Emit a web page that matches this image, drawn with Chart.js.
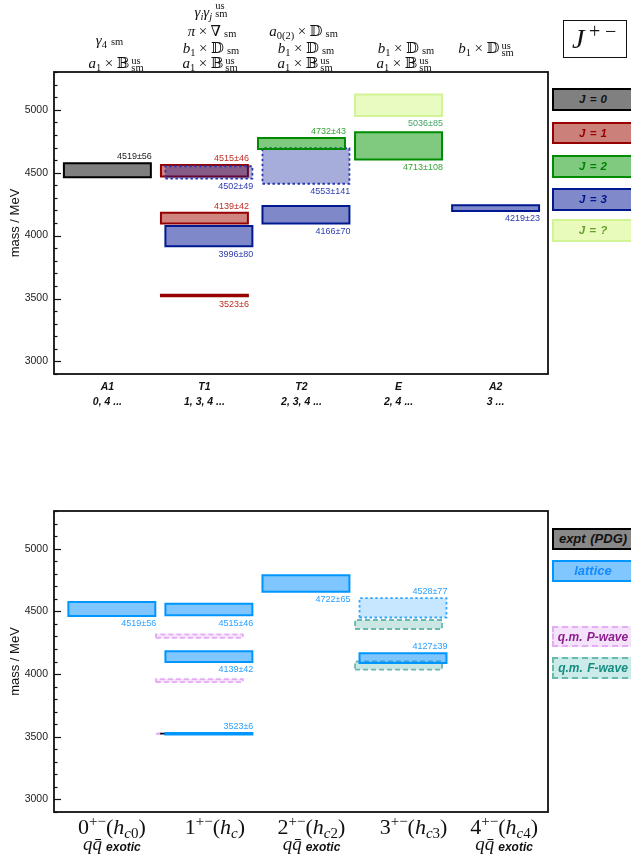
<!DOCTYPE html>
<html>
<head>
<meta charset="utf-8">
<title>J+- charmonium levels</title>
<script src="https://cdn.jsdelivr.net/npm/chart.js@4.4.1/dist/chart.umd.min.js"></script>
<style>
  html, body { margin: 0; padding: 0; background: #fff; }
  body { position: relative; width: 631px; height: 858px; overflow: hidden; font-family: "Liberation Sans", Arial, sans-serif; }
  canvas { position: absolute; left: 0; }
  #topChart { top: 0; }
  #botChart { top: 430px; }
  .key { position: absolute; left: 552px; width: 86px; height: 22.5px; box-sizing: border-box;
         border: 2px solid #000; font: italic bold 11.5px "Liberation Sans", Arial, sans-serif;
         text-align: center; line-height: 18.5px; padding-right: 4px; word-spacing: 1px; }
  .key.big { font-size: 13px; }
  .key.mid { font-size: 12px; }
</style>
</head>
<body>
<canvas id="topChart" width="631" height="420"></canvas>
<canvas id="botChart" width="631" height="428"></canvas>

<div class="key" style="top:88px;background:#808080;border-color:#000;color:#111;">J = 0</div>
<div class="key" style="top:121.5px;background:rgb(204,128,122);border-color:rgb(150,0,0);color:rgb(150,0,0);">J = 1</div>
<div class="key" style="top:155px;background:rgb(128,202,128);border-color:rgb(0,140,0);color:rgb(0,130,0);">J = 2</div>
<div class="key" style="top:188px;background:rgb(128,137,202);border-color:rgb(0,25,145);color:rgb(0,20,140);">J = 3</div>
<div class="key" style="top:219px;background:rgb(232,251,186);border-color:rgb(210,244,150);color:rgb(100,160,40);">J = ?</div>

<div class="key big" style="top:528px;height:21.5px;background:#888;border-color:#000;color:#111;">expt (PDG)</div>
<div class="key big" style="top:560px;height:22px;background:rgb(128,198,255);border-color:rgb(0,150,255);color:rgb(20,140,255);">lattice</div>
<div class="key mid" style="top:625.5px;height:21.5px;background:rgb(245,226,251);border:2px dashed rgb(228,172,245);color:rgb(140,30,140);">q.m. P-wave</div>
<div class="key mid" style="top:657px;height:22px;background:rgb(202,235,231);border:2px dashed rgb(105,185,175);color:rgb(20,140,130);">q.m. F-wave</div>

<script>
// ---------- upper panel: levels in each cubic irrep ----------
const irreps     = ['A1', 'T1', 'T2', 'E', 'A2'];
const irrepSpins = ['0, 4 ...', '1, 3, 4 ...', '2, 3, 4 ...', '2, 4 ...', '3 ...'];

// listed back-to-front (first entry is drawn underneath)
const levelIrrep = ['T1', 'T1', 'A1', 'T1', 'T1', 'T1', 'T2', 'T2', 'T2', 'E', 'E', 'A2'];
const levelSpin  = ['1', '3', '0', '1', '3', '1', '3', '2', '3', '?', '2', '3'];
const levelMass  = [4515, 4502, 4519, 4139, 3996, 3523, 4553, 4732, 4166, 5036, 4713, 4219];
const levelErr   = [46, 49, 56, 42, 80, 6, 141, 43, 70, 85, 108, 23];

// ---------- lower panel: continuum J^{+-} assignments ----------
const hcSpin   = ['0', '1', '2', '3', '4'];
const hcSub    = ['c0', 'c', 'c2', 'c3', 'c4'];
const hcExotic = [true, false, true, false, true];

const stateJ    = [1, 1, 1, 1, 3, 3, 0, 1, 1, 1, 2, 3, 3];
const stateKind = ['pwave', 'pwave', 'pwave', 'expt', 'fwave', 'fwave',
                   'lattice', 'lattice', 'lattice', 'lattice', 'lattice', 'lattice', 'lattice'];
const stateMass = [4303, 3948, 3525, 3525, 4395, 4068, 4519, 4515, 4139, 3523, 4722, 4528, 4127];
const stateErr  = [14, 12, 2, 1, 36, 32, 56, 46, 42, 6, 65, 77, 39];

const massTicks = [3000, 3500, 4000, 4500, 5000];

// ---------- drawing details (kept apart from the values) ----------
const levelDotted  = [false, true, false, false, false, false, true, false, false, false, false, false];
const levelTagSide = ['above', 'below', 'above', 'above', 'below', 'below', 'below', 'above', 'below', 'below', 'below', 'below'];
const levelNudge   = [0, 1, 0, 0, 1, 0, 1, 0, 1, 0, 0, 0];
const stateDotted  = [false, false, false, false, false, false, false, false, false, false, false, true, false];
const stateTagSide = [null, null, null, null, null, null, 'below', 'below', 'below', 'above', 'below', 'above', 'above'];
const hcLabelNudge = [4.5, 10.5, 10, 15, 8.5];

const SANS  = '"Liberation Sans", Arial, Helvetica, sans-serif';
const SERIF = '"Liberation Serif", "DejaVu Serif", "Times New Roman", serif';
const HW = 0.448;      // half width of a level box, x units
const NUDGE = 0.046;   // sideways shift of overlapping boxes, x units

const spinLook = {
  '0': {line: '#000',             fill: 'rgba(0,0,0,0.5)',        tag: '#222'},
  '1': {line: 'rgb(150,0,0)',     fill: 'rgba(160,10,0,0.5)',     tag: 'rgb(190,45,35)'},
  '2': {line: 'rgb(0,140,0)',     fill: 'rgba(0,150,0,0.5)',      tag: 'rgb(55,165,55)'},
  '3': {line: 'rgb(0,25,145)',    fill: 'rgba(0,20,150,0.5)',     tag: 'rgb(45,60,175)'},
  '?': {line: 'rgb(210,244,150)', fill: 'rgba(205,248,120,0.45)', tag: 'rgb(70,165,105)'}
};
const dottedLook = {line: 'rgb(40,55,175)', fill: 'rgba(0,20,150,0.35)', dash: [2.5, 2.5], width: 1.8};

const kindLook = {
  expt:    {line: '#000',             fill: 'rgba(0,0,0,0.5)',        width: 1.5, shift: 0},
  lattice: {line: 'rgb(0,150,255)',   fill: 'rgba(0,140,255,0.5)',    width: 2,   shift: NUDGE, tag: 'rgb(40,160,255)'},
  pwave:   {line: 'rgb(228,170,245)', fill: 'rgba(215,150,240,0.28)', width: 1.8, shift: -0.052, dash: [5, 3]},
  fwave:   {line: 'rgb(105,185,175)', fill: 'rgba(80,175,165,0.3)',   width: 1.8, shift: 0, dash: [5, 3]}
};
const latticeDotted = {line: 'rgb(50,165,255)', fill: 'rgba(0,140,255,0.22)', dash: [2.5, 2.5], width: 1.8};

// a closed rectangle spanning mass ± err around x position cx
function levelBox(cx, mass, err, look, order, tag) {
  const lo = mass - err, hi = mass + err;
  return {
    data: [{x: cx - HW, y: lo}, {x: cx + HW, y: lo}, {x: cx + HW, y: hi}, {x: cx - HW, y: hi}, {x: cx - HW, y: lo}],
    borderColor: look.line,
    backgroundColor: look.fill,
    borderWidth: look.width || 2,
    borderDash: look.dash || [],
    borderCapStyle: look.dash ? 'butt' : 'square',
    borderJoinStyle: 'miter',
    fill: 'shape',
    tension: 0,
    pointRadius: 0,
    pointHoverRadius: 0,
    order,
    tag
  };
}

const topSets = levelMass.map((m, i) => {
  const base = spinLook[levelSpin[i]];
  const look = levelDotted[i] ? Object.assign({}, base, dottedLook) : base;
  const cx = irreps.indexOf(levelIrrep[i]) + 1 + levelNudge[i] * NUDGE;
  return levelBox(cx, m, levelErr[i], look, levelMass.length - i,
    {text: m + '±' + levelErr[i], side: levelTagSide[i], color: base.tag});
});

const botSets = stateMass.map((m, i) => {
  const base = kindLook[stateKind[i]];
  const look = stateDotted[i] ? Object.assign({}, base, latticeDotted) : base;
  const cx = stateJ[i] + 1 + base.shift;
  const tag = stateTagSide[i] ? {text: m + '±' + stateErr[i], side: stateTagSide[i], color: base.tag} : null;
  return levelBox(cx, m, stateErr[i], look, stateMass.length - i, tag);
});

// frame round the plot and inward tick marks on the mass axis
const frameTicks = {
  id: 'frameTicks',
  afterDatasetsDraw(chart) {
    const {ctx, chartArea: a, scales: {y}} = chart;
    ctx.save();
    ctx.strokeStyle = '#111';
    ctx.lineWidth = 1.2;
    y.ticks.forEach(t => {
      const py = Math.round(y.getPixelForValue(t.value)) + 0.5;
      const len = massTicks.includes(t.value) ? 7 : 3.5;
      ctx.beginPath();
      ctx.moveTo(a.left, py);
      ctx.lineTo(a.left + len, py);
      ctx.stroke();
    });
    ctx.lineWidth = 1.8;
    ctx.strokeRect(a.left, a.top, a.right - a.left, a.bottom - a.top);
    ctx.restore();
  }
};

// "mass±err" tags beside each box
const valueTags = {
  id: 'valueTags',
  afterDatasetsDraw(chart) {
    const {ctx, scales: {x, y}} = chart;
    ctx.save();
    ctx.font = '9px ' + SANS;
    ctx.textAlign = 'right';
    chart.data.datasets.forEach(ds => {
      if (!ds.tag) return;
      const half = ds.borderWidth / 2;
      const right = x.getPixelForValue(ds.data[1].x) + half;
      ctx.fillStyle = ds.tag.color;
      if (ds.tag.side === 'above') {
        ctx.textBaseline = 'alphabetic';
        ctx.fillText(ds.tag.text, right, y.getPixelForValue(ds.data[2].y) - half - 3);
      } else {
        ctx.textBaseline = 'top';
        ctx.fillText(ds.tag.text, right, y.getPixelForValue(ds.data[0].y) + half + 2.5);
      }
    });
    ctx.restore();
  }
};

// small rich-text helper: runs of text with their own font and vertical shift
function partWidth(ctx, p) {
  if (p.sp !== undefined) return p.sp;
  ctx.font = p.f;
  if (p.up !== undefined) return Math.max(ctx.measureText(p.up).width, ctx.measureText(p.dn).width);
  return ctx.measureText(p.t).width;
}
function drawRich(ctx, parts, cx, base, color) {
  const widths = parts.map(p => partWidth(ctx, p));
  let xx = cx - widths.reduce((a, b) => a + b, 0) / 2;
  ctx.save();
  ctx.fillStyle = color || '#111';
  ctx.textAlign = 'left';
  ctx.textBaseline = 'alphabetic';
  parts.forEach((p, k) => {
    if (p.sp === undefined) {
      ctx.font = p.f;
      if (p.up !== undefined) {
        ctx.fillText(p.up, xx, base + p.upDy);
        ctx.fillText(p.dn, xx, base + p.dnDy);
      } else {
        ctx.fillText(p.t, xx, base + (p.dy || 0));
      }
    }
    xx += widths[k];
  });
  ctx.restore();
}
const R  = t => ({t, f: '15px ' + SERIF});
const I  = t => ({t, f: 'italic 15px ' + SERIF});
const s  = (t, dy = 3) => ({t, f: '10.5px ' + SERIF, dy});
const si = (t, dy = 3) => ({t, f: 'italic 10.5px ' + SERIF, dy});
const gap = n => ({sp: n});
const usSm = (upDy = -4.5, dnDy = 2.5) => ({up: 'us', dn: 'sm', f: '10.5px ' + SERIF, upDy, dnDy});
const times = () => [gap(3.5), R('×'), gap(3.5)];

const opLines = [
  {parts: [I('γ'), s('4'), gap(4), s('sm', 0.5)], x: 109.5, y: 44.5},
  {parts: [I('a'), s('1'), ...times(), R('𝔹'), gap(2), usSm()], x: 116, y: 68},
  {parts: [I('γ'), si('i'), I('γ'), si('j'), gap(3), usSm(-8, 0)], x: 211, y: 17},
  {parts: [I('π'), ...times(), R('∇'), gap(3), s('sm', 0.5)], x: 212, y: 36},
  {parts: [I('b'), s('1'), ...times(), R('𝔻'), gap(3), s('sm', 0.5)], x: 211, y: 53},
  {parts: [I('a'), s('1'), ...times(), R('𝔹'), gap(2), usSm()], x: 210, y: 68},
  {parts: [I('a'), s('0(2)'), ...times(), R('𝔻'), gap(3), s('sm', 0.5)], x: 303.5, y: 36},
  {parts: [I('b'), s('1'), ...times(), R('𝔻'), gap(3), s('sm', 0.5)], x: 306, y: 53},
  {parts: [I('a'), s('1'), ...times(), R('𝔹'), gap(2), usSm()], x: 305, y: 68},
  {parts: [I('b'), s('1'), ...times(), R('𝔻'), gap(3), s('sm', 0.5)], x: 406, y: 53},
  {parts: [I('a'), s('1'), ...times(), R('𝔹'), gap(2), usSm()], x: 404, y: 68},
  {parts: [I('b'), s('1'), ...times(), R('𝔻'), gap(2), usSm()], x: 486, y: 53}
];

// operator basis above the upper panel and the J^{+-} badge
const header = {
  id: 'header',
  afterDraw(chart) {
    const ctx = chart.ctx;
    opLines.forEach(l => drawRich(ctx, l.parts, l.x, l.y));
    ctx.save();
    ctx.strokeStyle = '#111';
    ctx.lineWidth = 1;
    ctx.strokeRect(563.5, 20.5, 63, 37);
    ctx.fillStyle = '#111';
    ctx.textBaseline = 'alphabetic';
    ctx.font = 'italic 28px ' + SERIF;
    ctx.fillText('J', 572, 48);
    ctx.font = '20px ' + SERIF;
    ctx.fillText('+', 589, 37.5);
    ctx.fillText('−', 605, 37.5);
    ctx.restore();
  }
};

// J^{PC}(name) labels under the lower panel
const hcLabels = {
  id: 'hcLabels',
  afterDraw(chart) {
    const {ctx, scales: {x}} = chart;
    const big = 22, small = 15;
    hcSpin.forEach((j, i) => {
      const cx = x.getPixelForValue(i + 1) + hcLabelNudge[i];
      const parts = [
        {t: j, f: big + 'px ' + SERIF},
        {t: '+−', f: small + 'px ' + SERIF, dy: -8},
        {t: '(', f: big + 'px ' + SERIF},
        {t: 'h', f: 'italic ' + big + 'px ' + SERIF},
        {t: 'c', f: 'italic ' + small + 'px ' + SERIF, dy: 4},
        {t: hcSub[i].slice(1), f: small + 'px ' + SERIF, dy: 4},
        {t: ')', f: big + 'px ' + SERIF}
      ];
      drawRich(ctx, parts, cx, 404);
      if (hcExotic[i]) {
        drawRich(ctx, [
          {t: 'q', f: 'italic 19px ' + SERIF},
          {t: 'q\u0304', f: 'italic 19px ' + SERIF},
          gap(4),
          {t: 'exotic', f: 'italic bold 12px ' + SANS, dy: 1}
        ], cx, 420);
      }
    });
  }
};

function massAxis() {
  return {
    type: 'linear', min: 2900, max: 5300,
    grid: {display: false, drawTicks: false},
    border: {display: false},
    ticks: {
      stepSize: 100, autoSkip: false, padding: 6, color: '#222',
      font: {family: SANS, size: 10.5},
      callback: v => massTicks.includes(v) ? String(v) : ''
    },
    title: {display: true, text: 'mass / MeV', color: '#111', font: {family: SANS, size: 13}, padding: {top: 8, bottom: 0}},
    afterFit: sc => { sc.width = 54; }
  };
}

const common = {
  responsive: false,
  animation: false,
  events: [],
  plugins: {legend: {display: false}, tooltip: {enabled: false}}
};

new Chart(document.getElementById('topChart'), {
  type: 'line',
  data: {datasets: topSets},
  options: Object.assign({}, common, {
    layout: {padding: {top: 72, right: 83, bottom: 6, left: 0}},
    scales: {
      x: {
        type: 'linear', min: 0.45, max: 5.54,
        grid: {display: false, drawTicks: false},
        border: {display: false},
        afterBuildTicks: sc => { sc.ticks = irreps.map((_, i) => ({value: i + 1})); },
        ticks: {
          autoSkip: false, maxRotation: 0, padding: 5, color: '#111',
          font: {family: SANS, size: 10.5, style: 'italic', weight: 'bold', lineHeight: 1.45},
          callback: v => [irreps[Math.round(v) - 1], irrepSpins[Math.round(v) - 1]]
        },
        afterFit: sc => { sc.height = 40; }
      },
      y: massAxis()
    }
  }),
  plugins: [frameTicks, valueTags, header]
});

new Chart(document.getElementById('botChart'), {
  type: 'line',
  data: {datasets: botSets},
  options: Object.assign({}, common, {
    layout: {padding: {top: 81, right: 83, bottom: 46, left: 0}},
    scales: {
      x: {type: 'linear', min: 0.45, max: 5.54, display: false},
      y: massAxis()
    }
  }),
  plugins: [frameTicks, valueTags, hcLabels]
});
</script>
</body>
</html>
